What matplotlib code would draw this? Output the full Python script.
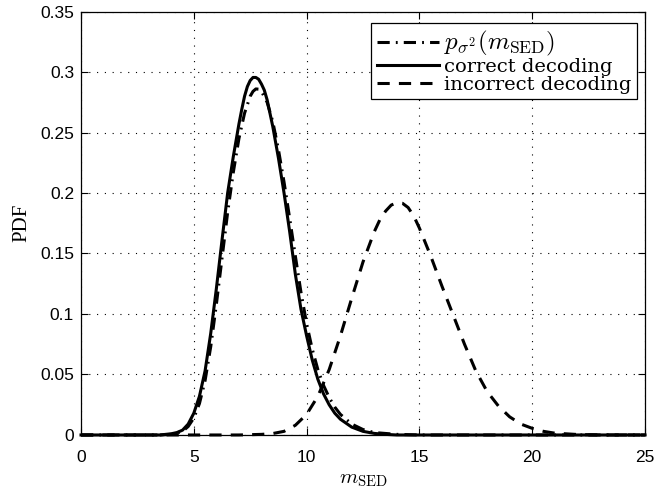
import numpy as np
import matplotlib
matplotlib.use("Agg")
import matplotlib.pyplot as plt
from matplotlib.ticker import FuncFormatter

# values
x_prior = [0, 3.5, 4.0, 4.5, 4.75, 5.0, 5.25, 5.5, 5.75, 6.0, 6.25, 6.5, 6.75, 7.0, 7.25,
           7.5, 7.625, 7.75, 7.875, 8.0, 8.25, 8.5, 8.75, 9.0, 9.25, 9.5, 9.75, 10.0,
           10.25, 10.5, 10.75, 11.0, 11.25, 11.5, 12.0, 12.5, 13.0, 14.0, 15.0, 25]
pdf_prior = [0, 0, 0.0005, 0.003, 0.007, 0.014, 0.026, 0.045, 0.073, 0.108, 0.146, 0.184,
             0.217, 0.245, 0.266, 0.280, 0.284, 0.286, 0.2858, 0.284, 0.275, 0.259, 0.236,
             0.209, 0.179, 0.148, 0.118, 0.092, 0.071, 0.054, 0.041, 0.031, 0.023, 0.017,
             0.009, 0.0045, 0.002, 0.0005, 0, 0]

x_correct = [0, 3.5, 4.0, 4.25, 4.5, 4.75, 5.0, 5.25, 5.5, 5.75, 6.0, 6.25, 6.5, 6.75, 7.0,
             7.125, 7.25, 7.375, 7.5, 7.625, 7.75, 7.875, 8.0, 8.125, 8.25, 8.5, 8.75,
             9.0, 9.25, 9.5, 9.75, 10.0, 10.25, 10.5, 10.75, 11.0, 11.25, 11.5, 12.0,
             12.5, 13.0, 13.5, 14.0, 25]
pdf_correct = [0, 0, 0.001, 0.002, 0.004, 0.009, 0.018, 0.032, 0.053, 0.084, 0.121, 0.161,
               0.200, 0.230, 0.257, 0.269, 0.280, 0.288, 0.293, 0.2955, 0.2955, 0.294,
               0.290, 0.285, 0.277, 0.255, 0.229, 0.200, 0.168, 0.133, 0.104, 0.082, 0.062,
               0.046, 0.034, 0.025, 0.018, 0.013, 0.0065, 0.003, 0.0013, 0.0005, 0, 0]

x_incorrect = [0, 7.0, 8.0, 8.5, 9.0, 9.5, 10.0, 10.5, 11.0, 11.5, 12.0, 12.5, 13.0, 13.25,
               13.5, 13.75, 14.0, 14.25, 14.5, 14.75, 15.0, 15.5, 16.0, 16.5, 17.0, 17.5,
               18.0, 18.5, 19.0, 19.5, 20.0, 20.5, 21.0, 22.0, 23.0, 25]
pdf_incorrect = [0, 0, 0.0005, 0.0012, 0.003, 0.008, 0.017, 0.032, 0.054, 0.082, 0.113,
                 0.143, 0.168, 0.178, 0.185, 0.190, 0.192, 0.1915, 0.188, 0.181, 0.171,
                 0.148, 0.123, 0.099, 0.075, 0.053, 0.036, 0.024, 0.015, 0.009, 0.0055,
                 0.003, 0.0015, 0.0004, 0, 0]

labels = [r"$p_{\sigma^2}(m_{\rm SED})$", "correct decoding", "incorrect decoding"]
yticks = [0, 0.05, 0.1, 0.15, 0.2, 0.25, 0.3, 0.35]
xticks = [0, 5, 10, 15, 20, 25]

plt.rcParams["mathtext.fontset"] = "cm"

fig = plt.figure(figsize=(6.56, 4.92), dpi=100)
ax = fig.add_axes([0.1235, 0.1159, 0.8597, 0.8607])

lw = 2.2
ax.plot(x_prior, pdf_prior, color="black", lw=lw, dashes=(4, 2, 0.6, 2),
        label=labels[0], clip_on=False, zorder=3)
ax.plot(x_correct, pdf_correct, color="black", lw=lw, linestyle="-",
        label=labels[1], clip_on=False, zorder=3)
ax.plot(x_incorrect, pdf_incorrect, color="black", lw=lw, dashes=(4, 3),
        label=labels[2], clip_on=False, zorder=3)

ax.set_xlim(0, 25)
ax.set_ylim(0, 0.35)
ax.set_xticks(xticks)
ax.set_yticks(yticks)
ax.yaxis.set_major_formatter(FuncFormatter(lambda v, p: "%g" % v))
ax.tick_params(direction="in", top=True, right=True, length=5, width=0.8,
               labelsize=12.5)
ax.tick_params(axis="x", pad=10.5)
ax.tick_params(axis="y", pad=5)
for lab in ax.get_xticklabels() + ax.get_yticklabels():
    lab.set_family("Liberation Sans")
ax.grid(True, color="black", linestyle=(0, (1, 6)), linewidth=0.8)
for s in ax.spines.values():
    s.set_linewidth(0.9)

ax.set_xlabel(r"$m_{\rm SED}$", fontsize=15, labelpad=3)
ax.set_ylabel("PDF", fontsize=15, family="Liberation Serif", labelpad=6)

leg = ax.legend(loc="upper right", bbox_to_anchor=(0.9858, 0.9736), borderaxespad=0,
                prop={"family": "DejaVu Serif", "size": 14}, handlelength=3.2,
                handletextpad=0.25, labelspacing=0.0, borderpad=0.3,
                fancybox=False, framealpha=1, edgecolor="black")
leg.get_frame().set_linewidth(0.9)
leg.get_texts()[0].set_fontsize(18)

fig.savefig("out.png", dpi=100)
